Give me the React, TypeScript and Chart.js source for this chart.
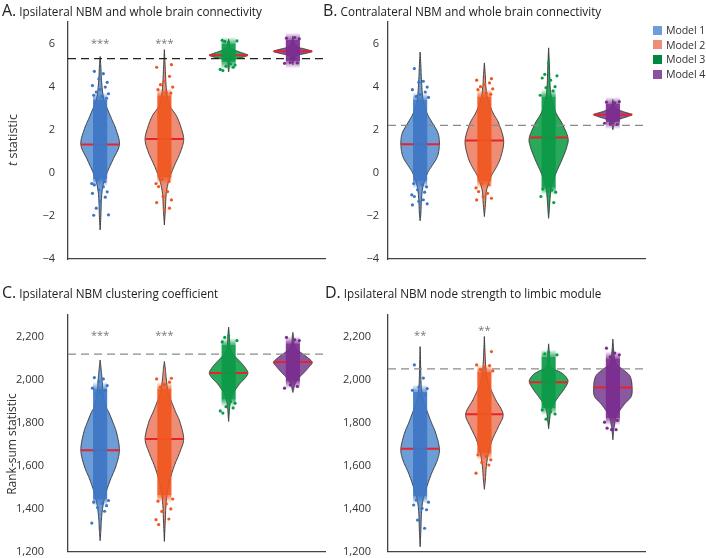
import React, { useEffect, useRef } from 'react';
import { Chart, registerables } from 'chart.js';

Chart.register(...registerables);
Chart.defaults.font.family = "'Open Sans', 'Noto Sans', sans-serif";

type Pair = [number, number];

const MODELS = ['Model 1', 'Model 2', 'Model 3', 'Model 4'];
const VIOLIN_FILL = ['#6d9dd7', '#ee8c76', '#2aa85c', '#8a57a1'];
const POINT_COLOR = ['#3d76c6', '#f0561f', '#0b9a48', '#7a2c8f'];
const LEGEND_COLOR = ['#6c9ed8', '#f08d78', '#00873f', '#8c50a0'];

const T_TICKS = [-4, -2, 0, 2, 4, 6];
const RANK_TICKS = [1200, 1400, 1600, 1800, 2000, 2200];

// ---------- Panel A: Ipsilateral NBM and whole brain connectivity (t statistic)
const A_DENSITY: Pair[][] = [
  [[5.4, 0], [4.9, 0.04], [4.2, 0.08], [3.4, 0.2], [2.6, 0.55], [2.0, 0.83], [1.3, 1.0], [0.6, 0.66], [0.0, 0.36], [-0.6, 0.15], [-1.2, 0.07], [-2.0, 0.04], [-2.65, 0]],
  [[5.72, 0], [4.95, 0.04], [4.17, 0.08], [3.55, 0.15], [3.08, 0.3], [2.62, 0.64], [2.0, 0.9], [1.5, 1.0], [0.91, 0.81], [0.29, 0.5], [-0.33, 0.24], [-0.95, 0.1], [-1.72, 0.05], [-2.42, 0]],
  [[6.2, 0], [6.0, 0.04], [5.8, 0.1], [5.7, 0.3], [5.6, 0.6], [5.5, 0.92], [5.46, 1.0], [5.38, 0.8], [5.3, 0.45], [5.22, 0.15], [5.1, 0.05], [4.9, 0.03], [4.68, 0]],
  [[6.34, 0], [6.15, 0.04], [5.95, 0.1], [5.82, 0.3], [5.74, 0.65], [5.64, 1.0], [5.56, 0.75], [5.48, 0.35], [5.4, 0.12], [5.25, 0.04], [5.02, 0]],
];
const A_MEDIAN = [1.32, 1.57, 5.46, 5.64];
const A_DENSE: Pair[] = [[-0.3, 3.4], [-0.2, 3.6], [5.12, 5.98], [5.18, 6.18]];
const A_POINTS = [
  [4.71, 4.6, 4.36, 4.2, 4.05, 3.98, 3.86, 3.75, 3.67, 3.6, 3.55, 3.46, -0.33, -0.4, -0.5, -0.56, -0.65, -0.79, -0.88, -0.95, -1.13, -1.33, -1.64, -1.95, -1.97],
  [5.02, 4.9, 4.48, 4.25, 4.09, 3.98, 3.86, 3.74, 3.7, -0.3, -0.4, -0.5, -0.64, -0.87, -1.1, -1.26, -1.38, -1.64, -1.72],
  [6.05, 6.1, 6.12, 6.15, 5.05, 5.0, 4.95, 4.9, 4.8, 4.75],
  [6.25, 6.28, 6.22, 5.12, 5.1, 5.08],
];
const A_REF = 5.3;
const A_STARS = ['***', '***', '', ''];
const A_STAR_Y = [6.1, 6.1, 0, 0];

// ---------- Panel B: Contralateral NBM and whole brain connectivity
const B_DENSITY: Pair[][] = [
  [[5.6, 0], [4.95, 0.04], [4.33, 0.07], [3.4, 0.15], [2.78, 0.35], [2.31, 0.64], [1.84, 0.93], [1.33, 1.0], [0.76, 0.9], [0.29, 0.59], [-0.02, 0.38], [-0.63, 0.15], [-1.25, 0.07], [-1.87, 0.04], [-2.23, 0]],
  [[5.1, 0], [4.5, 0.05], [4.0, 0.08], [3.4, 0.18], [2.78, 0.45], [2.31, 0.74], [1.5, 1.0], [0.76, 0.86], [0.29, 0.64], [-0.17, 0.35], [-0.79, 0.12], [-1.41, 0.06], [-2.03, 0]],
  [[5.8, 0], [5.0, 0.04], [4.0, 0.08], [3.4, 0.17], [2.78, 0.38], [2.31, 0.69], [1.64, 1.0], [1.22, 0.95], [0.6, 0.69], [-0.02, 0.38], [-0.63, 0.15], [-1.25, 0.07], [-1.7, 0.04], [-2.11, 0]],
  [[3.4, 0], [3.2, 0.04], [3.05, 0.1], [2.95, 0.25], [2.85, 0.5], [2.77, 0.8], [2.7, 1.0], [2.62, 0.8], [2.52, 0.45], [2.42, 0.18], [2.3, 0.06], [2.15, 0.03], [2.0, 0]],
];
const B_MEDIAN = [1.33, 1.5, 1.64, 2.7];
const B_DENSE: Pair[] = [[-0.4, 3.4], [-0.4, 3.55], [-0.7, 3.55], [2.35, 3.2]];
const B_POINTS = [
  [4.84, 4.25, 4.2, 3.98, 3.86, 3.75, 3.63, 3.55, 3.5, -0.5, -0.55, -0.65, -0.79, -0.9, -1.02, -1.1, -1.25, -1.33, -1.44, -1.49],
  [4.37, 4.3, 4.17, 4.1, 4.0, 3.9, 3.86, 3.7, 3.65, -0.5, -0.55, -0.7, -0.87, -0.95, -1.1, -1.18, -1.26],
  [5.1, 4.57, 4.5, 4.4, 4.3, 4.0, 3.95, 3.8, 3.6, -0.75, -0.8, -0.87, -0.9, -1.1, -1.38],
  [3.28, 3.25, 3.3, 2.28, 2.25, 2.3],
];
const B_REF = 2.2;
const B_STARS = ['', '', '', ''];
const B_STAR_Y = [0, 0, 0, 0];

// ---------- Panel C: Ipsilateral NBM clustering coefficient (rank-sum statistic)
const C_DENSITY: Pair[][] = [
  [[2091, 0], [2050, 0.05], [2003, 0.1], [1941, 0.15], [1879, 0.28], [1848, 0.45], [1802, 0.66], [1751, 0.86], [1672, 1.0], [1600, 0.83], [1538, 0.55], [1476, 0.31], [1414, 0.15], [1352, 0.07], [1300, 0.04], [1251, 0]],
  [[2084, 0], [2050, 0.05], [2003, 0.1], [1941, 0.19], [1895, 0.38], [1848, 0.59], [1802, 0.81], [1724, 1.0], [1662, 0.8], [1600, 0.52], [1538, 0.3], [1476, 0.15], [1414, 0.08], [1352, 0.05], [1248, 0]],
  [[2244, 0], [2200, 0.04], [2153, 0.07], [2130, 0.15], [2107, 0.34], [2076, 0.67], [2053, 0.88], [2030, 1.0], [2006, 0.85], [1983, 0.6], [1952, 0.35], [1921, 0.15], [1874, 0.06], [1840, 0.03], [1805, 0]],
  [[2219, 0], [2200, 0.03], [2169, 0.06], [2146, 0.15], [2123, 0.45], [2107, 0.7], [2081, 1.0], [2060, 0.85], [2037, 0.63], [2014, 0.38], [1991, 0.18], [1967, 0.07], [1950, 0.03], [1940, 0]],
];
const C_MEDIAN = [1672, 1724, 2030, 2081];
const C_DENSE: Pair[] = [[1445, 1957], [1461, 1957], [1906, 2161], [1990, 2169]];
const C_POINTS = [
  [2009, 2003, 1990, 1972, 1960, 1949, 1940, 1933, 1438, 1430, 1424, 1414, 1405, 1388, 1333],
  [2006, 2003, 1988, 1976, 1965, 1445, 1435, 1422, 1399, 1387, 1352, 1349, 1326],
  [2203, 2196, 2181, 2175, 1898, 1890, 1874, 1868, 1854, 1844],
  [2196, 2185, 2181, 1975, 1968, 1960],
];
const C_REF = 2118;
const C_STARS = ['***', '***', '', ''];
const C_STAR_Y = [2216, 2216, 0, 0];

// ---------- Panel D: Ipsilateral NBM node strength to limbic module
const D_DENSITY: Pair[][] = [
  [[2153, 0], [2050, 0.03], [1983, 0.05], [1937, 0.1], [1890, 0.22], [1844, 0.4], [1797, 0.6], [1751, 0.81], [1679, 1.0], [1627, 0.9], [1565, 0.6], [1502, 0.35], [1440, 0.15], [1379, 0.07], [1301, 0.04], [1223, 0]],
  [[2200, 0], [2092, 0.05], [2030, 0.1], [1983, 0.2], [1952, 0.35], [1906, 0.59], [1839, 0.97], [1781, 0.73], [1720, 0.41], [1658, 0.21], [1595, 0.1], [1533, 0.05], [1490, 0]],
  [[2166, 0], [2120, 0.04], [2091, 0.05], [2060, 0.1], [2048, 0.3], [2030, 0.69], [2010, 0.92], [1988, 1.0], [1952, 0.78], [1921, 0.52], [1890, 0.29], [1859, 0.12], [1812, 0.05], [1771, 0]],
  [[2188, 0], [2138, 0.04], [2091, 0.1], [2068, 0.2], [2045, 0.55], [2014, 0.9], [1963, 1.0], [1921, 0.95], [1890, 0.64], [1859, 0.38], [1828, 0.18], [1781, 0.07], [1750, 0.03], [1720, 0]],
];
const D_MEDIAN = [1679, 1839, 1988, 1963];
const D_DENSE: Pair[] = [[1456, 1944], [1658, 2037], [1867, 2107], [1820, 2099]];
const D_POINTS = [
  [2068, 2007, 1965, 1958, 1950, 1929, 1921, 1440, 1430, 1417, 1402, 1395, 1347, 1309],
  [2130, 2068, 2065, 2055, 2045, 2040, 1650, 1642, 1627, 1615, 1603, 1565],
  [2126, 2120, 2115, 1859, 1850, 1840, 1816],
  [2146, 2123, 2115, 2105, 1810, 1802, 1774, 1767, 1767],
];
const D_REF = 2050;
const D_STARS = ['**', '**', '', ''];
const D_STAR_Y = [2216, 2239, 0, 0];

// ---------- drawing helpers (layout constants)
const HALF = 0.3; // violin half width in x-units at density 1
const STRIP = 0.11; // half width of dense point strip
const FADE = 7; // px of soft fade at each end of a strip
const JIT = [-0.09, 0.05, -0.02, 0.11, -0.12, 0.08, 0.0, -0.06, 0.13, -0.1, 0.03, 0.1, -0.04, 0.07, -0.13];

function smooth(pairs: Pair[]): Pair[] {
  const out: Pair[] = [];
  const n = pairs.length;
  for (let i = 0; i < n - 1; i++) {
    const p0 = pairs[Math.max(0, i - 1)];
    const p1 = pairs[i];
    const p2 = pairs[i + 1];
    const p3 = pairs[Math.min(n - 1, i + 2)];
    const steps = 10;
    for (let s = 0; s < steps; s++) {
      const t = s / steps;
      const t2 = t * t;
      const t3 = t2 * t;
      const f = (a: number, b: number, c: number, d: number) =>
        0.5 * (2 * b + (-a + c) * t + (2 * a - 5 * b + 4 * c - d) * t2 + (-a + 3 * b - 3 * c + d) * t3);
      out.push([f(p0[0], p1[0], p2[0], p3[0]), Math.max(0, f(p0[1], p1[1], p2[1], p3[1]))]);
    }
  }
  out.push(pairs[n - 1]);
  return out;
}

function widthAt(pairs: Pair[], v: number): number {
  for (let i = 0; i < pairs.length - 1; i++) {
    const [y0, w0] = pairs[i];
    const [y1, w1] = pairs[i + 1];
    if ((v <= y0 && v >= y1) || (v >= y0 && v <= y1)) {
      const t = y1 === y0 ? 0 : (v - y0) / (y1 - y0);
      return w0 + t * (w1 - w0);
    }
  }
  return 0;
}

function hexA(hex: string, a: number) {
  const n = parseInt(hex.slice(1), 16);
  return `rgba(${(n >> 16) & 255},${(n >> 8) & 255},${n & 255},${a})`;
}

interface PanelCfg {
  left: number;
  top: number;
  width: number;
  height: number;
  axisW: number;
  pad: { top: number; right: number; bottom: number };
  yMin: number;
  yMax: number;
  ticks: number[];
  fmt: (v: number) => string;
  tickPad: number;
  density: Pair[][];
  median: number[];
  dense: Pair[];
  points: number[][];
  ref: number;
  refColor: string;
  stars: string[];
  starY: number[];
}

const fmtT = (v: number) => (v < 0 ? '\u2212' + Math.abs(v) : String(v));
const fmtRank = (v: number) => v.toLocaleString('en-US');

const PANELS: PanelCfg[] = [
  { left: 0, top: 0, width: 353, height: 279, axisW: 68, pad: { top: 22, right: 28, bottom: 20 }, yMin: -4, yMax: 7, ticks: T_TICKS, fmt: fmtT, tickPad: 13,
    density: A_DENSITY, median: A_MEDIAN, dense: A_DENSE, points: A_POINTS, ref: A_REF, refColor: '#222', stars: A_STARS, starY: A_STAR_Y },
  { left: 330, top: 0, width: 376, height: 279, axisW: 58, pad: { top: 22, right: 61, bottom: 20 }, yMin: -4, yMax: 7, ticks: T_TICKS, fmt: fmtT, tickPad: 9,
    density: B_DENSITY, median: B_MEDIAN, dense: B_DENSE, points: B_POINTS, ref: B_REF, refColor: '#8a8a8a', stars: B_STARS, starY: B_STAR_Y },
  { left: 0, top: 279, width: 353, height: 279, axisW: 68, pad: { top: 36, right: 28, bottom: 6.3 }, yMin: 1200, yMax: 2300, ticks: RANK_TICKS, fmt: fmtRank, tickPad: 24,
    density: C_DENSITY, median: C_MEDIAN, dense: C_DENSE, points: C_POINTS, ref: C_REF, refColor: '#8a8a8a', stars: C_STARS, starY: C_STAR_Y },
  { left: 330, top: 279, width: 376, height: 279, axisW: 58, pad: { top: 36, right: 61, bottom: 6.3 }, yMin: 1200, yMax: 2300, ticks: RANK_TICKS, fmt: fmtRank, tickPad: 17,
    density: D_DENSITY, median: D_MEDIAN, dense: D_DENSE, points: D_POINTS, ref: D_REF, refColor: '#8a8a8a', stars: D_STARS, starY: D_STAR_Y },
];

function violinPlugin(cfg: PanelCfg) {
  return {
    id: 'violins',
    beforeDatasetsDraw(chart: any) {
      const { ctx, chartArea, scales } = chart;
      const x = scales.x;
      const y = scales.y;
      const unit = x.getPixelForValue(1) - x.getPixelForValue(0);
      ctx.save();
      // violin bodies
      cfg.density.forEach((pairs, i) => {
        const cx = x.getPixelForValue(i + 1);
        const pts = smooth(pairs);
        ctx.beginPath();
        pts.forEach(([v, w], k) => {
          const px = cx + w * HALF * unit;
          const py = y.getPixelForValue(v);
          if (k === 0) ctx.moveTo(px, py);
          else ctx.lineTo(px, py);
        });
        for (let k = pts.length - 1; k >= 0; k--) {
          const [v, w] = pts[k];
          ctx.lineTo(cx - w * HALF * unit, y.getPixelForValue(v));
        }
        ctx.closePath();
        ctx.fillStyle = VIOLIN_FILL[i];
        ctx.fill();
        ctx.lineWidth = 0.9;
        ctx.strokeStyle = '#333';
        ctx.stroke();
      });
      // reference dashed line
      const ry = y.getPixelForValue(cfg.ref);
      ctx.beginPath();
      ctx.setLineDash([8, 5]);
      ctx.lineWidth = 1.3;
      ctx.strokeStyle = cfg.refColor;
      ctx.moveTo(chartArea.left, ry);
      ctx.lineTo(chartArea.right, ry);
      ctx.stroke();
      ctx.setLineDash([]);
      // medians
      cfg.median.forEach((m, i) => {
        const cx = x.getPixelForValue(i + 1);
        const hw = widthAt(cfg.density[i], m) * HALF * unit;
        const py = y.getPixelForValue(m);
        ctx.beginPath();
        ctx.lineWidth = 2;
        ctx.strokeStyle = '#e8222b';
        ctx.moveTo(cx - hw, py);
        ctx.lineTo(cx + hw, py);
        ctx.stroke();
      });
      // dense point strips with soft ends
      cfg.dense.forEach(([lo, hi], i) => {
        const x0 = x.getPixelForValue(i + 1 - STRIP);
        const x1 = x.getPixelForValue(i + 1 + STRIP);
        const y0 = y.getPixelForValue(hi);
        const y1 = y.getPixelForValue(lo);
        const solid = hexA(POINT_COLOR[i], 0.93);
        const clear = hexA(POINT_COLOR[i], 0);
        ctx.fillStyle = solid;
        ctx.fillRect(x0, y0, x1 - x0, y1 - y0);
        const gTop = ctx.createLinearGradient(0, y0 - FADE, 0, y0);
        gTop.addColorStop(0, clear);
        gTop.addColorStop(1, hexA(POINT_COLOR[i], 0.75));
        ctx.fillStyle = gTop;
        ctx.fillRect(x0, y0 - FADE, x1 - x0, FADE);
        const gBot = ctx.createLinearGradient(0, y1, 0, y1 + FADE);
        gBot.addColorStop(0, hexA(POINT_COLOR[i], 0.75));
        gBot.addColorStop(1, clear);
        ctx.fillStyle = gBot;
        ctx.fillRect(x0, y1, x1 - x0, FADE);
      });
      // significance stars
      ctx.fillStyle = '#777';
      ctx.font = "11px 'Open Sans'";
      ctx.textAlign = 'center';
      ctx.textBaseline = 'alphabetic';
      cfg.stars.forEach((s, i) => {
        if (!s) return;
        ctx.fillText(s, x.getPixelForValue(i + 1), y.getPixelForValue(cfg.starY[i]) + 6);
      });
      ctx.restore();
    },
  };
}

function Panel({ cfg }: { cfg: PanelCfg }) {
  const ref = useRef<HTMLCanvasElement | null>(null);
  useEffect(() => {
    if (!ref.current) return;
    const chart = new Chart(ref.current, {
      type: 'scatter',
      data: {
        datasets: cfg.points.map((ys, i) => ({
          label: MODELS[i],
          data: ys.map((v, k) => ({ x: i + 1 + JIT[(k + i * 3) % JIT.length], y: v })),
          pointRadius: 1.6,
          pointHoverRadius: 1.6,
          backgroundColor: POINT_COLOR[i],
          borderWidth: 0,
        })),
      },
      options: {
        animation: false,
        responsive: false,
        maintainAspectRatio: false,
        events: [],
        layout: { padding: { left: 0, right: cfg.pad.right, top: cfg.pad.top, bottom: cfg.pad.bottom } },
        plugins: { legend: { display: false }, tooltip: { enabled: false }, title: { display: false } },
        scales: {
          x: {
            type: 'linear',
            min: 0.5,
            max: 4.5,
            ticks: { display: false },
            grid: { display: false, drawTicks: false },
            border: { display: true, color: '#444', width: 1.3 },
            afterFit: (s: any) => {
              s.height = 0;
              s.paddingLeft = 0;
              s.paddingRight = 0;
            },
          },
          y: {
            type: 'linear',
            min: cfg.yMin,
            max: cfg.yMax,
            afterBuildTicks: (s: any) => {
              s.ticks = cfg.ticks.map((v) => ({ value: v }));
            },
            ticks: {
              padding: cfg.tickPad,
              color: '#333',
              font: { size: 11 },
              callback: (v: any) => cfg.fmt(Number(v)),
            },
            grid: { display: false, drawTicks: false },
            border: { display: true, color: '#444', width: 1.3 },
            afterFit: (s: any) => {
              s.width = cfg.axisW;
              s.paddingTop = 0;
              s.paddingBottom = 0;
            },
          },
        },
      } as any,
      plugins: [violinPlugin(cfg)],
    });
    return () => chart.destroy();
  }, [cfg]);
  return (
    <canvas
      ref={ref}
      width={cfg.width}
      height={cfg.height}
      style={{ position: 'absolute', left: cfg.left, top: cfg.top, width: cfg.width, height: cfg.height }}
    />
  );
}

const TITLES = [
  { letter: 'A.', text: 'Ipsilateral NBM and whole brain connectivity', left: 2, top: 0 },
  { letter: 'B.', text: 'Contralateral NBM and whole brain connectivity', left: 323, top: 0 },
  { letter: 'C.', text: 'Ipsilateral NBM clustering coefficient', left: 2, top: 282 },
  { letter: 'D.', text: 'Ipsilateral NBM node strength to limbic module', left: 325, top: 282 },
];

const font = "'Open Sans', 'Noto Sans', sans-serif";

export default function App() {
  return (
    <div style={{ position: 'absolute', left: 0, top: 0, width: 706, height: 558, background: '#fff', overflow: 'hidden', fontFamily: font, color: '#222' }}>
      {PANELS.map((p, i) => (
        <Panel key={i} cfg={p} />
      ))}
      {TITLES.map((t, i) => (
        <div key={i} style={{ position: 'absolute', left: t.left, top: t.top, height: 20, lineHeight: '20px', whiteSpace: 'nowrap', display: 'flex', alignItems: 'baseline' }}>
          <span style={{ fontSize: 16 }}>{t.letter}</span>
          <span style={{ fontSize: 11.7, marginLeft: 3 }}>{t.text}</span>
        </div>
      ))}
      <div style={{ position: 'absolute', left: 12, top: 140, transform: 'translate(-50%, -50%) rotate(-90deg)', whiteSpace: 'nowrap', fontSize: 12.5, color: '#333' }}>
        <i>t</i> statistic
      </div>
      <div style={{ position: 'absolute', left: 11, top: 444, transform: 'translate(-50%, -50%) rotate(-90deg)', whiteSpace: 'nowrap', fontSize: 12, color: '#333' }}>
        Rank-sum statistic
      </div>
      {MODELS.map((m, i) => (
        <div key={m} style={{ position: 'absolute', left: 653, top: 23 + i * 14.7, height: 14, display: 'flex', alignItems: 'center', whiteSpace: 'nowrap' }}>
          <span style={{ width: 9, height: 9, background: LEGEND_COLOR[i], display: 'inline-block' }} />
          <span style={{ fontSize: 10.6, marginLeft: 4, color: '#333', letterSpacing: -0.1 }}>{m}</span>
        </div>
      ))}
    </div>
  );
}
